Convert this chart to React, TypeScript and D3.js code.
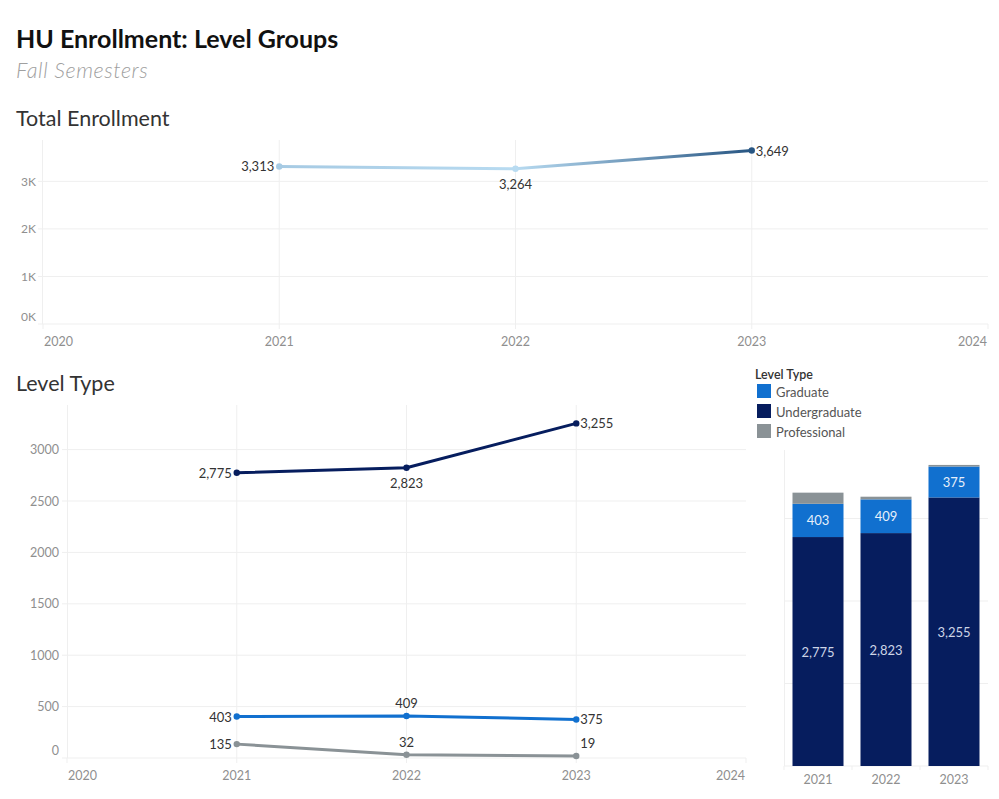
import React from "react";
import * as d3 from "d3";

const years = [2021, 2022, 2023];
const totalEnrollment = [3313, 3264, 3649];
const undergraduate = [2775, 2823, 3255];
const graduate = [403, 409, 375];
const professional = [135, 32, 19];
const axisYears = [2020, 2021, 2022, 2023, 2024];
const topTicks = [0, 1000, 2000, 3000];
const bottomTicks = [0, 500, 1000, 1500, 2000, 2500, 3000];
const barGridTicks = [1000, 2000, 3000];
const legendItems = ["Graduate", "Undergraduate", "Professional"];

const FONT = "Lato, 'Noto Sans', sans-serif";
const GRID = "#efefef";
const AXIS_TXT = "#8f8f8f";
const LBL = "#333";
const colors: Record<string, string> = {
  Graduate: "#1170cf",
  Undergraduate: "#061d5e",
  Professional: "#8a9296",
};

type Pos = "left" | "right" | "below" | "above" | "aboveRight";

function Label({ x, y, text, pos }: { x: number; y: number; text: string; pos: Pos }) {
  let dx = 0, dy = 0, anchor: any = "middle";
  if (pos === "left") { dx = -5; anchor = "end"; }
  if (pos === "right") { dx = 4; anchor = "start"; }
  if (pos === "below") { dy = 15; }
  if (pos === "above") { dy = -13; }
  if (pos === "aboveRight") { dx = 4; dy = -13; anchor = "start"; }
  return (
    <text x={x + dx} y={y + dy} textAnchor={anchor} dominantBaseline="central" fontSize={13} fill={LBL} fontFamily={FONT}>
      {text}
    </text>
  );
}

const fmt = d3.format(",");

export default function App() {
  // top chart
  const tx = d3.scaleLinear().domain([2020, 2024]).range([43, 988]);
  const ty = d3.scaleLinear().domain([0, 3870]).range([324, 140]);
  const tColor = d3.scaleLinear<string>().domain([3264, 3649]).range(["#b8dbf1", "#285683"]);
  const topLabelPos: Pos[] = ["left", "below", "right"];

  // bottom line chart
  const bx = d3.scaleLinear().domain([2020, 2024]).range([67, 746]);
  const by = d3.scaleLinear().domain([0, 3434]).range([758, 405]);
  const series: { name: string; values: number[]; pos: Pos[] }[] = [
    { name: "Undergraduate", values: undergraduate, pos: ["left", "below", "right"] },
    { name: "Graduate", values: graduate, pos: ["left", "above", "right"] },
    { name: "Professional", values: professional, pos: ["left", "above", "aboveRight"] },
  ];
  const line = d3.line<number>().x((_, i) => bx(years[i])).y((d) => by(d));

  // bar chart
  const barX = d3.scaleBand<number>().domain(years).range([784, 988]).paddingInner(0.25).paddingOuter(0.125);
  const barY = d3.scaleLinear().domain([0, 3830]).range([766, 450]);
  const stackData = years.map((y, i) => ({ year: y, Undergraduate: undergraduate[i], Graduate: graduate[i], Professional: professional[i] }));
  const stack = d3.stack<any>().keys(["Undergraduate", "Graduate", "Professional"])(stackData);

  return (
    <div style={{ position: "absolute", left: 0, top: 0 }}>
      <svg width={999} height={799} style={{ display: "block", background: "#fff" }}>
        <defs>
          {years.slice(0, -1).map((y, i) => (
            <linearGradient key={i} id={`tg${i}`} gradientUnits="userSpaceOnUse"
              x1={tx(y)} y1={ty(totalEnrollment[i])} x2={tx(years[i + 1])} y2={ty(totalEnrollment[i + 1])}>
              <stop offset="0%" stopColor={tColor(totalEnrollment[i])} />
              <stop offset="100%" stopColor={tColor(totalEnrollment[i + 1])} />
            </linearGradient>
          ))}
        </defs>
        <text x={16} y={38} fontSize={25} fontWeight={700} fontFamily={FONT} fill="#111" dominantBaseline="central">HU Enrollment: Level Groups</text>
        <text x={16} y={70} fontSize={21.5} fontStyle="italic" fontWeight={300} letterSpacing={0.6} fontFamily={FONT} fill="#a0a0a0" dominantBaseline="central">Fall Semesters</text>
        <text x={16} y={118} fontSize={21.5} fontFamily={FONT} fill="#333" dominantBaseline="central">Total Enrollment</text>
        <text x={16} y={383} fontSize={21.5} fontFamily={FONT} fill="#333" dominantBaseline="central">Level Type</text>

        {/* Top chart */}
        {topTicks.map((t) => (
          <g key={t}>
            <line x1={38} x2={988} y1={ty(t)} y2={ty(t)} stroke={GRID} />
            <text x={36} y={t === 0 ? ty(t) - 8 : ty(t)} textAnchor="end" dominantBaseline="central" fontSize={12} fill={AXIS_TXT} fontFamily={FONT}>{t / 1000}K</text>
          </g>
        ))}
        <line x1={42.5} x2={42.5} y1={140} y2={324} stroke={GRID} />
        {axisYears.map((y, i) => (
          <g key={y}>
            {i > 0 && i < axisYears.length - 1 && <line x1={tx(y)} x2={tx(y)} y1={140} y2={324} stroke={GRID} />}
            <line x1={tx(y)} x2={tx(y)} y1={324} y2={329} stroke={GRID} />
            <text x={i === 0 ? tx(y) + 1 : i === axisYears.length - 1 ? tx(y) - 1 : tx(y)} y={341}
              textAnchor={i === 0 ? "start" : i === axisYears.length - 1 ? "end" : "middle"} dominantBaseline="central" fontSize={12.5} fill={AXIS_TXT} fontFamily={FONT}>{y}</text>
          </g>
        ))}
        {years.slice(0, -1).map((y, i) => (
          <line key={i} x1={tx(y)} y1={ty(totalEnrollment[i])} x2={tx(years[i + 1])} y2={ty(totalEnrollment[i + 1])}
            stroke={`url(#tg${i})`} strokeWidth={3} strokeLinecap="round" />
        ))}
        {years.map((y, i) => (
          <g key={y}>
            <circle cx={tx(y)} cy={ty(totalEnrollment[i])} r={3.2} fill={tColor(totalEnrollment[i])} />
            <Label x={tx(y)} y={ty(totalEnrollment[i])} text={fmt(totalEnrollment[i])} pos={topLabelPos[i]} />
          </g>
        ))}

        {/* Bottom line chart */}
        {bottomTicks.map((t) => (
          <g key={t}>
            <line x1={62} x2={746} y1={by(t)} y2={by(t)} stroke={GRID} />
            <text x={59} y={t === 0 ? by(t) - 8 : by(t)} textAnchor="end" dominantBaseline="central" fontSize={12.5} fill={AXIS_TXT} fontFamily={FONT}>{t}</text>
          </g>
        ))}
        <line x1={67.5} x2={67.5} y1={405} y2={758} stroke={GRID} />
        {axisYears.map((y, i) => (
          <g key={y}>
            {i > 0 && i < axisYears.length - 1 && <line x1={bx(y)} x2={bx(y)} y1={405} y2={758} stroke={GRID} />}
            <line x1={bx(y)} x2={bx(y)} y1={758} y2={763} stroke={GRID} />
            <text x={i === 0 ? bx(y) + 1 : i === axisYears.length - 1 ? bx(y) - 1 : bx(y)} y={775}
              textAnchor={i === 0 ? "start" : i === axisYears.length - 1 ? "end" : "middle"} dominantBaseline="central" fontSize={12.5} fill={AXIS_TXT} fontFamily={FONT}>{y}</text>
          </g>
        ))}
        {series.map((s) => (
          <g key={s.name}>
            <path d={line(s.values) || ""} fill="none" stroke={colors[s.name]} strokeWidth={3} strokeLinejoin="round" />
            {s.values.map((v, i) => (
              <g key={i}>
                <circle cx={bx(years[i])} cy={by(v)} r={3.2} fill={colors[s.name]} />
                <Label x={bx(years[i])} y={by(v)} text={fmt(v)} pos={s.pos[i]} />
              </g>
            ))}
          </g>
        ))}

        {/* Legend */}
        <text x={755} y={374} fontSize={12.5} fontWeight={600} fill="#333" fontFamily={FONT} dominantBaseline="central">Level Type</text>
        {legendItems.map((k, i) => (
          <g key={k}>
            <rect x={757} y={384 + i * 20} width={14} height={14} fill={colors[k]} />
            <text x={776} y={391.5 + i * 20} fontSize={13} fill="#555" fontFamily={FONT} dominantBaseline="central">{k}</text>
          </g>
        ))}

        {/* Bar chart */}
        {barGridTicks.map((t) => (
          <line key={t} x1={784} x2={988} y1={barY(t)} y2={barY(t)} stroke={GRID} />
        ))}
        <line x1={784.5} x2={784.5} y1={450} y2={766} stroke={GRID} />
        <line x1={784} x2={988} y1={766} y2={766} stroke={GRID} />
        {[784, ...years.map((y) => (barX(y) as number) + barX.bandwidth() + (barX.step() - barX.bandwidth()) / 2)].map((x, i) => (
          <line key={i} x1={x} x2={x} y1={766} y2={770} stroke={GRID} />
        ))}
        {stack.map((layer) => (
          <g key={layer.key}>
            {layer.map((d, i) => (
              <rect key={i} x={barX(years[i])} width={barX.bandwidth()} y={barY(d[1])} height={barY(d[0]) - barY(d[1])} fill={colors[layer.key]} />
            ))}
          </g>
        ))}
        {stack.filter((l) => l.key !== "Professional").map((layer) => (
          <g key={layer.key}>
            {layer.map((d, i) => (
              <text key={i} x={(barX(years[i]) as number) + barX.bandwidth() / 2} y={(barY(d[0]) + barY(d[1])) / 2}
                textAnchor="middle" dominantBaseline="central" fontSize={13} fontFamily={FONT}
                fill={layer.key === "Undergraduate" ? "#cdd5e6" : "#e6effa"}>{fmt(d[1] - d[0])}</text>
            ))}
          </g>
        ))}
        {years.map((y) => (
          <text key={y} x={(barX(y) as number) + barX.bandwidth() / 2} y={779} textAnchor="middle" dominantBaseline="central" fontSize={12.5} fill={AXIS_TXT} fontFamily={FONT}>{y}</text>
        ))}
      </svg>
    </div>
  );
}
